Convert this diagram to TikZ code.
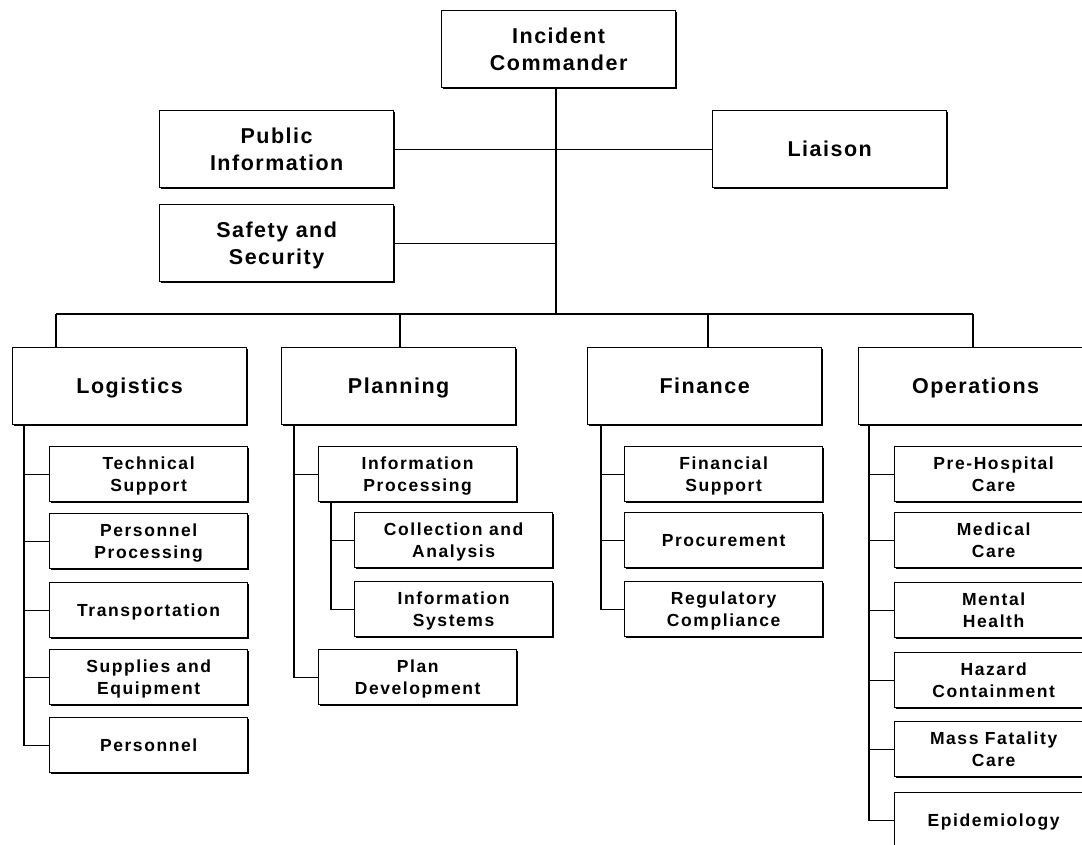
\documentclass[tikz,border=0pt]{standalone}
\usepackage{fontspec}
\setmainfont{Liberation Sans}
\newfontfamily\bigfont[LetterSpace=7]{Liberation Sans}
\newfontfamily\subfont[LetterSpace=9]{Liberation Sans}
\usetikzlibrary{shadows}
\tikzset{
  box/.style={draw=black, fill=white, line width=1.3pt, inner sep=0pt, anchor=north west, align=center, text depth=0pt,
    general shadow={fill=black, shadow xshift=1.6pt, shadow yshift=-1.6pt}},
  big/.style={box, minimum width=234pt, minimum height=77pt, font=\bigfont\bfseries\fontsize{21.5}{26.5}\selectfont},
  sub/.style={box, minimum width=198pt, minimum height=55pt, font=\subfont\bfseries\fontsize{17.5}{22.5}\selectfont},
  link/.style={draw=black, line width=1.3pt}
}
\begin{document}
\begin{tikzpicture}[x=1pt,y=-1pt]
\useasboundingbox (0,0) rectangle (1082,844);
\clip (0,0) rectangle (1082,844);
% top
\node[big] (ic) at (441,10) {Incident\\Commander};
\node[big] (pub) at (159,110) {Public\\Information};
\node[big] (liaison) at (712,110) {Liaison};
\node[big] (safety) at (159,204) {Safety and\\Security};
% sections
\node[big] (log) at (12,347) {Logistics};
\node[big] (plan) at (281,347) {Planning};
\node[big] (fin) at (587,347) {Finance};
\node[big] (ops) at (858,347) {Operations};
% logistics items
\node[sub] (tech) at (49,446) {Technical\\Support};
\node[sub] (pproc) at (49,513) {Personnel\\Processing};
\node[sub] (trans) at (49,582) {Transportation};
\node[sub] (supp) at (49,649) {Supplies and\\Equipment};
\node[sub] (pers) at (49,717) {Personnel};
% planning items
\node[sub] (iproc) at (318,446) {Information\\Processing};
\node[sub] (coll) at (354,512) {Collection and\\Analysis};
\node[sub] (isys) at (354,581) {Information\\Systems};
\node[sub] (pdev) at (318,649) {Plan\\Development};
% finance items
\node[sub] (fsup) at (624,446) {Financial\\Support};
\node[sub] (proc) at (624,512) {Procurement};
\node[sub] (reg) at (624,581) {Regulatory\\Compliance};
% operations items
\node[sub] (prehosp) at (894,446) {Pre-Hospital\\Care};
\node[sub] (med) at (894,512) {Medical\\Care};
\node[sub] (ment) at (894,582) {Mental\\Health};
\node[sub] (haz) at (894,652) {Hazard\\Containment};
\node[sub] (mass) at (894,721) {Mass Fatality\\Care};
\node[sub] (epi) at (894,792) {Epidemiology};
% coordinates
\coordinate (bus) at (556,314);
\coordinate (dl) at (56,314);
\coordinate (dp) at (400,314);
\coordinate (df) at (708,314);
\coordinate (do) at (973,314);
\coordinate (tl) at (24,424);
\coordinate (tp) at (294,424);
\coordinate (tf) at (601,424);
\coordinate (to) at (869,424);
\coordinate (ti) at (331,501);
% top connectors
\path[link] (ic.south -| bus) -- (bus);
\path[link] (pub.east) -- (liaison.west);
\path[link] (safety.east) -- (safety.east -| bus);
\path[link] (dl) -- (do);
\path[link] (dl) -- (dl |- log.north);
\path[link] (dp) -- (dp |- plan.north);
\path[link] (df) -- (df |- fin.north);
\path[link] (do) -- (do |- ops.north);
% logistics
\path[link] (tl) |- (pers.west);
\path[link] (tech.west) -- (tech.west -| tl);
\path[link] (pproc.west) -- (pproc.west -| tl);
\path[link] (trans.west) -- (trans.west -| tl);
\path[link] (supp.west) -- (supp.west -| tl);
% planning
\path[link] (tp) |- (pdev.west);
\path[link] (iproc.west) -- (iproc.west -| tp);
\path[link] (ti) |- (isys.west);
\path[link] (coll.west) -- (coll.west -| ti);
% finance
\path[link] (tf) |- (reg.west);
\path[link] (fsup.west) -- (fsup.west -| tf);
\path[link] (proc.west) -- (proc.west -| tf);
% operations
\path[link] (to) |- (epi.west);
\path[link] (prehosp.west) -- (prehosp.west -| to);
\path[link] (med.west) -- (med.west -| to);
\path[link] (ment.west) -- (ment.west -| to);
\path[link] (haz.west) -- (haz.west -| to);
\path[link] (mass.west) -- (mass.west -| to);
\end{tikzpicture}
\end{document}
